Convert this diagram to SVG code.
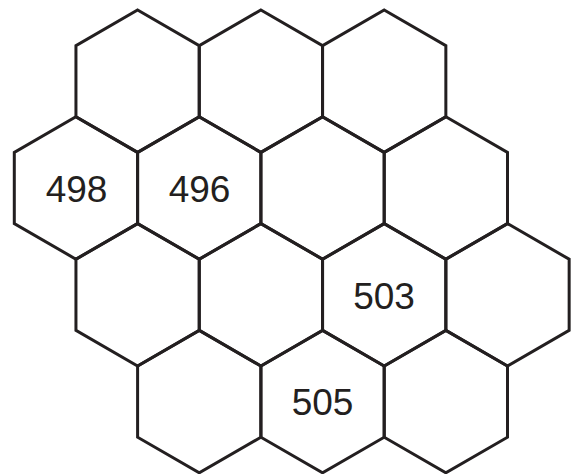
<svg xmlns="http://www.w3.org/2000/svg" xmlns:xlink="http://www.w3.org/1999/xlink" width="575" height="474" viewBox="0 0 575 474">
<style>
.hex{fill:none;stroke:#231f20;stroke-width:3;stroke-linejoin:miter}
.lbl{font-family:"Liberation Sans",Arial,sans-serif;font-size:37px;fill:#231f20;text-anchor:middle}
</style>
<defs>
<polygon id="hexshape" class="hex" points="0,-71.2 61.65,-35.6 61.65,35.6 0,71.2 -61.65,35.6 -61.65,-35.6"/>
</defs>
<rect width="575" height="474" fill="#fff"/>
<g id="r1c1"><use xlink:href="#hexshape" x="137.6" y="81.2"/></g>
<g id="r1c2"><use xlink:href="#hexshape" x="260.9" y="81.2"/></g>
<g id="r1c3"><use xlink:href="#hexshape" x="384.2" y="81.2"/></g>
<g id="r2c1"><use xlink:href="#hexshape" x="75.95" y="188"/><text class="lbl" x="76.5" y="202">498</text></g>
<g id="r2c2"><use xlink:href="#hexshape" x="199.25" y="188"/><text class="lbl" x="199.5" y="202">496</text></g>
<g id="r2c3"><use xlink:href="#hexshape" x="322.55" y="188"/></g>
<g id="r2c4"><use xlink:href="#hexshape" x="445.85" y="188"/></g>
<g id="r3c1"><use xlink:href="#hexshape" x="137.6" y="294.8"/></g>
<g id="r3c2"><use xlink:href="#hexshape" x="260.9" y="294.8"/></g>
<g id="r3c3"><use xlink:href="#hexshape" x="384.2" y="294.8"/><text class="lbl" x="384" y="309">503</text></g>
<g id="r3c4"><use xlink:href="#hexshape" x="507.5" y="294.8"/></g>
<g id="r4c1"><use xlink:href="#hexshape" x="199.25" y="401.6"/></g>
<g id="r4c2"><use xlink:href="#hexshape" x="322.55" y="401.6"/><text class="lbl" x="322.5" y="415">505</text></g>
<g id="r4c3"><use xlink:href="#hexshape" x="445.85" y="401.6"/></g>
<g id="connectors"></g>
</svg>
